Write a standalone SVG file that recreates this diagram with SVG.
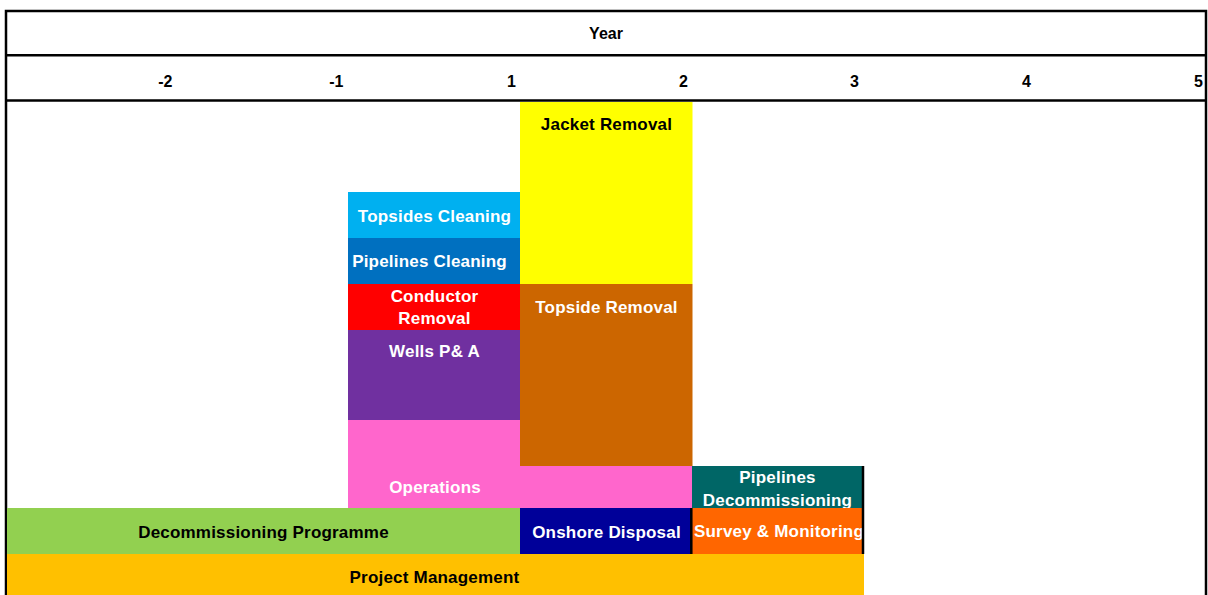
<svg xmlns="http://www.w3.org/2000/svg" width="1208" height="595" viewBox="0 0 1208 595">
  <defs>
    <style>
      text { font-family: "Liberation Sans", Arial, sans-serif; font-weight: bold; }
      .hdr { font-size: 16px; fill: #000; text-anchor: middle; }
      .tick { font-size: 16px; fill: #000; text-anchor: end; }
      .lbl { font-size: 17px; letter-spacing: 0.2px; text-anchor: middle; }
      .w { fill: #fff; }
      .k { fill: #000; }
      .rule { stroke: #000; stroke-width: 2.5; fill: none; }
      .sep { stroke: #000; stroke-width: 2.5; }
    </style>
    <clipPath id="clipPipeDecom"><rect x="692" y="466" width="170" height="42"/></clipPath>
    <clipPath id="clipSurvey"><rect x="692" y="508" width="170" height="46"/></clipPath>
  </defs>

  <rect x="0" y="0" width="1208" height="595" fill="#fff"/>

  <!-- timeline header -->
  <g id="header">
    <path class="rule" d="M6 595 V11 H1206 V595"/>
    <line class="rule" x1="6" y1="55.3" x2="1206" y2="55.3"/>
    <line class="rule" x1="6" y1="100.5" x2="1206" y2="100.5"/>
    <text class="hdr" x="606" y="38.5">Year</text>
    <text class="tick" x="172.5" y="86.5">-2</text>
    <text class="tick" x="343.5" y="86.5">-1</text>
    <text class="tick" x="516" y="86.5">1</text>
    <text class="tick" x="688" y="86.5">2</text>
    <text class="tick" x="859" y="86.5">3</text>
    <text class="tick" x="1031" y="86.5">4</text>
    <text class="tick" x="1203" y="86.5">5</text>
  </g>

  <!-- activity bars -->
  <g id="jacket-removal">
    <rect x="520" y="102" width="172.5" height="182" fill="#FFFF00"/>
    <text class="lbl k" x="606.5" y="129.5">Jacket Removal</text>
  </g>

  <g id="topsides-cleaning">
    <rect x="348" y="192" width="172" height="46" fill="#00B0F0"/>
    <text class="lbl w" x="434.5" y="221.7">Topsides Cleaning</text>
  </g>

  <g id="pipelines-cleaning">
    <rect x="348" y="238" width="172" height="46" fill="#0070C0"/>
    <text class="lbl w" x="429.5" y="267.3">Pipelines Cleaning</text>
  </g>

  <g id="conductor-removal">
    <rect x="348" y="284" width="172" height="46" fill="#FF0000"/>
    <text class="lbl w" x="434.5" y="301.7">Conductor</text>
    <text class="lbl w" x="434.5" y="324">Removal</text>
  </g>

  <g id="topside-removal">
    <rect x="520" y="284" width="172.5" height="182" fill="#CC6600"/>
    <text class="lbl w" x="606.5" y="312.7">Topside Removal</text>
  </g>

  <g id="wells-pa">
    <rect x="348" y="330" width="172" height="90" fill="#7030A0"/>
    <text class="lbl w" x="434.5" y="356.7">Wells P&amp; A</text>
  </g>

  <g id="operations">
    <path d="M348 420 H520 V466 H692 V508 H348 Z" fill="#FF66CC"/>
    <text class="lbl w" x="435" y="493.3">Operations</text>
  </g>

  <g id="pipelines-decommissioning">
    <rect x="692" y="466" width="170" height="42" fill="#006666"/>
    <g clip-path="url(#clipPipeDecom)">
      <text class="lbl w" x="777.5" y="483.3">Pipelines</text>
      <text class="lbl w" x="777.5" y="505.7">Decommissioning</text>
    </g>
  </g>

  <g id="decommissioning-programme">
    <rect x="7" y="508" width="513" height="46" fill="#92D050"/>
    <text class="lbl k" x="263.5" y="538.3">Decommissioning Programme</text>
  </g>

  <g id="onshore-disposal">
    <rect x="520" y="508" width="172" height="46" fill="#000099"/>
    <text class="lbl w" x="606.5" y="538.3">Onshore Disposal</text>
  </g>

  <g id="survey-monitoring">
    <rect x="692" y="508" width="170" height="46" fill="#FF6600"/>
    <g clip-path="url(#clipSurvey)">
      <text class="lbl w" x="694" y="536.7" style="text-anchor:start">Survey &amp; Monitoring</text>
    </g>
  </g>

  <g id="project-management">
    <rect x="7" y="554" width="857" height="41" fill="#FFC000"/>
    <text class="lbl k" x="434.5" y="583">Project Management</text>
  </g>

  <!-- cell borders around the final-year bars -->
  <g id="borders">
    <line class="sep" x1="691.3" y1="508" x2="691.3" y2="554"/>
    <line class="sep" x1="863" y1="466" x2="863" y2="554"/>
  </g>
</svg>
